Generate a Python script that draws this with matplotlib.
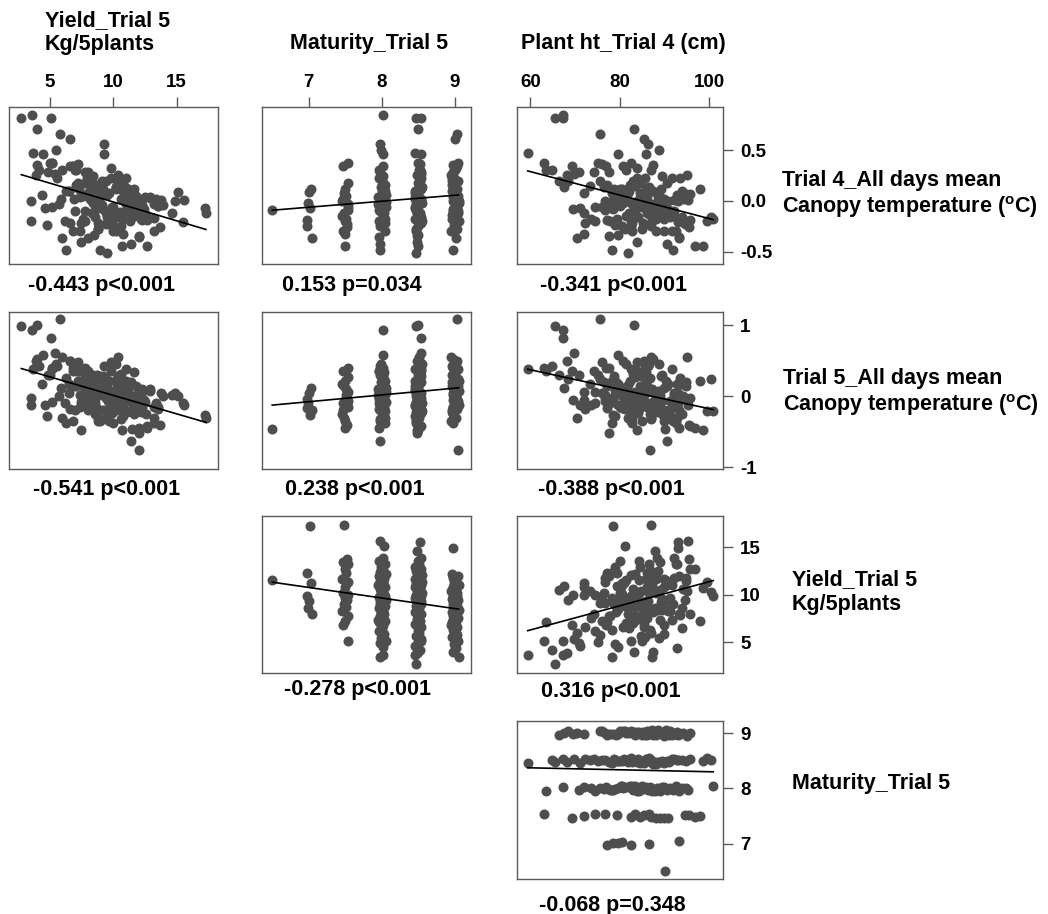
import numpy as np
import matplotlib
matplotlib.use('Agg')
import matplotlib.pyplot as plt

# ---------------- data (one entry per genotype) ----------------
maturity = [
    6.50,
    7.02, 6.98, 7.03, 6.97, 7.01, 6.99, 7.04,
    7.48, 7.52, 7.47, 7.53, 7.49, 7.51, 7.46, 7.54, 7.50, 7.47,
    7.53, 7.49, 7.52, 7.48, 7.51, 7.46, 7.54, 7.50, 7.47, 7.53,
    7.97, 8.03, 8.01, 7.96, 8.04, 7.99, 8.02, 7.98, 8.05, 7.96,
    8.00, 8.03, 7.97, 8.01, 7.95, 8.04, 7.98, 8.02, 7.99, 8.03,
    7.96, 8.01, 8.05, 7.97, 8.00, 7.98, 8.04, 7.96, 8.02, 7.99,
    8.03, 7.97, 8.01, 7.95, 8.04, 7.98, 8.02, 8.00, 7.96, 8.03,
    7.99, 8.05, 7.97, 8.01, 7.98, 8.02, 7.96, 8.04,
    8.47, 8.53, 8.50, 8.46, 8.52, 8.48, 8.54, 8.49, 8.51, 8.46,
    8.53, 8.47, 8.50, 8.55, 8.48, 8.52, 8.45, 8.51, 8.49, 8.53,
    8.47, 8.54, 8.50, 8.46, 8.52, 8.48, 8.51, 8.55, 8.49, 8.47,
    8.53, 8.46, 8.50, 8.52, 8.48, 8.54, 8.47, 8.51, 8.49, 8.45,
    8.53, 8.50, 8.48, 8.52, 8.46, 8.54, 8.49, 8.51, 8.47, 8.53,
    8.50, 8.46, 8.52, 8.48, 8.55, 8.49, 8.51, 8.47, 8.53, 8.50,
    8.97, 9.03, 9.00, 8.96, 9.04, 8.98, 9.02, 8.99, 9.05, 8.97,
    9.01, 8.95, 9.03, 8.98, 9.02, 8.96, 9.04, 9.00, 8.97, 9.03,
    8.99, 9.05, 8.96, 9.01, 8.98, 9.04, 8.97, 9.02, 9.00, 8.95,
    9.03, 8.98, 9.01, 8.96, 9.04, 8.99, 9.02, 8.97, 9.05, 9.00,
    8.96, 9.03, 8.98, 9.01, 8.97, 9.04, 8.99, 9.02, 8.96, 9.00,
]

plant_ht = [
    90.2,
    78.4, 77.2, 80.5, 82.5, 79.5, 86.6, 93.2,
    87.0, 95.5, 89.0, 86.5, 96.8, 79.3, 90.0, 76.7, 71.9, 88.0,
    74.5, 82.6, 94.5, 84.5, 85.5, 90.8, 83.5, 97.9, 69.3, 63.0,
    95.2, 81.2, 88.3, 84.3, 92.5, 79.0, 86.8, 78.5, 83.3, 93.2,
    94.8, 85.8, 90.6, 80.8, 87.3, 80.2, 87.0, 84.8, 76.5, 72.0,
    83.8, 91.2, 80.5, 86.3, 75.5, 91.8, 82.8, 87.8, 89.4, 85.3,
    81.8, 77.8, 73.5, 89.0, 82.3, 83.0, 77.0, 94.0, 74.5, 90.0,
    88.8, 85.0, 70.8, 79.6, 78.2, 67.2, 63.5, 100.9,
    65.6, 67.4, 83.2, 59.4, 93.1, 87.9, 92.2, 80.0, 92.8, 84.5,
    95.7, 88.5, 86.0, 82.5, 77.5, 76.8, 88.0, 81.5, 94.8, 81.0,
    91.0, 91.6, 79.4, 89.8, 83.0, 89.0, 73.3, 86.5, 80.5, 82.7,
    84.0, 78.2, 89.5, 82.0, 90.0, 78.8, 85.0, 94.0, 90.5, 87.5,
    74.3, 83.5, 83.8, 76.0, 85.5, 72.2, 86.7, 87.0, 84.7, 69.7,
    75.2, 71.0, 64.9, 68.2, 99.5, 98.7, 100.5, 81.8, 85.8, 79.7,
    93.0, 75.6, 85.4, 88.0, 86.8, 92.2, 84.4, 72.0, 90.4, 86.2,
    94.2, 95.0, 80.1, 69.5, 83.8, 91.0, 68.5, 89.2, 85.0, 81.1,
    79.5, 88.6, 79.2, 95.7, 77.5, 86.0, 91.6, 83.2, 81.4, 89.8,
    80.7, 78.2, 70.5, 85.6, 82.6, 78.9, 92.8, 87.4, 87.1, 67.5,
    66.3, 76.0, 89.5, 76.8, 83.5, 91.3, 93.5, 85.3, 77.2, 82.0,
]

yield_kg = [
    11.5,
    17.2, 12.3, 11.2, 9.9, 9.3, 8.6, 8.0,
    17.3, 13.7, 13.4, 13.2, 12.7, 12.3, 11.6, 11.3, 10.8, 10.2,
    10.0, 9.7, 9.4, 9.0, 8.7, 8.3, 7.8, 7.3, 6.8, 5.2,
    15.6, 15.1, 13.9, 13.5, 13.2, 12.9, 12.6, 12.4, 12.2, 12.0,
    11.8, 11.6, 11.4, 11.2, 11.0, 10.8, 10.6, 10.4, 10.2, 10.0,
    9.8, 9.7, 9.5, 9.3, 9.1, 9.0, 8.8, 8.6, 8.4, 8.2,
    8.0, 7.8, 7.6, 7.4, 7.2, 7.0, 6.8, 6.5, 6.2, 5.9,
    5.5, 5.2, 4.9, 4.5, 3.5, 3.64, 7.1, 9.9,
    2.77, 5.13, 4.0, 3.7, 15.5, 14.6, 13.8, 13.5, 13.2, 12.9,
    12.7, 12.5, 12.3, 12.1, 12.0, 11.8, 11.7, 11.5, 11.4, 11.2,
    11.1, 11.0, 10.9, 10.8, 10.6, 10.5, 10.4, 10.2, 10.1, 10.0,
    9.9, 9.7, 9.6, 9.4, 9.2, 9.0, 8.8, 8.6, 8.4, 8.2,
    8.0, 7.8, 7.5, 7.2, 6.9, 6.6, 6.3, 6.0, 5.7, 5.4,
    5.0, 4.6, 4.2, 3.9, 11.3, 10.7, 10.3, 9.5, 9.3, 8.5,
    14.9, 5.81, 6.57, 12.2, 12.0, 11.8, 11.5, 11.2, 11.0, 10.8,
    10.6, 10.4, 10.2, 10.0, 9.8, 9.6, 9.4, 9.2, 9.0, 8.8,
    8.6, 8.4, 8.2, 8.0, 7.8, 7.6, 7.4, 7.2, 7.0, 6.8,
    6.6, 6.3, 6.0, 5.6, 5.2, 4.8, 4.4, 4.0, 3.5, 10.9,
    10.5, 9.9, 9.5, 9.1, 8.7, 8.3, 7.9, 7.5, 7.1, 6.5,
]

ct_trial4 = [
    -0.09,
    -0.07, -0.19, 0.12, -0.25, 0.09, -0.02, -0.37,
    -0.12, -0.26, 0.02, -0.03, -0.44, -0.18, -0.15, -0.09, -0.33, -0.30,
    -0.06, -0.20, -0.23, 0.08, 0.05, 0.00, 0.18, 0.12, 0.34, 0.37,
    0.01, 0.09, -0.04, -0.05, -0.30, 0.03, -0.14, -0.08, -0.01, -0.36,
    0.05, 0.12, -0.42, -0.02, -0.03, 0.10, -0.25, 0.18, 0.14, -0.12,
    0.22, -0.16, 0.06, 0.56, 0.20, -0.48, -0.22, -0.09, 0.24, 0.02,
    0.08, -0.20, -0.18, 0.04, 0.16, -0.10, 0.34, 0.10, -0.20, 0.02,
    0.50, -0.06, 0.28, 0.46, 0.00, 0.84, 0.30, -0.18,
    0.81, 0.81, 0.71, 0.47, -0.21, -0.12, 0.01, -0.05, -0.17, 0.04,
    -0.19, 0.04, -0.04, -0.02, -0.35, 0.00, -0.06, -0.15, 0.07, 0.02,
    -0.09, 0.22, 0.06, -0.18, 0.20, -0.11, 0.15, 0.14, -0.25, -0.30,
    -0.16, 0.08, -0.13, -0.12, -0.08, 0.12, -0.28, -0.16, 0.18, 0.10,
    0.28, -0.10, -0.40, 0.36, 0.02, -0.22, 0.10, 0.30, -0.03, 0.26,
    0.37, -0.07, 0.30, 0.25, -0.20, -0.44, -0.16, -0.51, 0.46, -0.34,
    0.00, 0.66, 0.61, -0.18, -0.10, -0.10, -0.05, 0.08, 0.00, -0.12,
    0.02, 0.25, 0.12, -0.08, 0.32, -0.14, 0.20, 0.12, 0.04, -0.28,
    0.09, -0.02, 0.10, 0.07, 0.28, 0.05, -0.30, 0.18, 0.30, -0.30,
    0.34, -0.48, -0.37, 0.22, 0.37, -0.24, 0.06, 0.35, -0.20, 0.14,
    0.20, -0.06, -0.16, -0.04, 0.15, -0.12, 0.22, -0.22, 0.16, 0.10,
]

ct_trial5 = [
    -0.46,
    -0.27, -0.16, 0.12, -0.04, 0.04, -0.10, -0.20,
    -0.30, -0.40, -0.10, -0.15, -0.44, 0.10, -0.25, -0.06, -0.05, -0.20,
    0.06, -0.35, -0.02, 0.14, 0.02, 0.18, 0.27, 0.22, 0.35, 0.40,
    -0.12, 0.00, 0.00, -0.18, -0.38, 0.08, -0.25, -0.05, 0.06, -0.45,
    0.15, 0.34, -0.63, 0.05, 0.10, 0.02, -0.32, 0.28, 0.20, -0.15,
    0.35, -0.26, 0.12, 0.42, 0.25, -0.35, -0.30, -0.04, 0.30, 0.10,
    0.16, -0.10, -0.12, 0.02, 0.22, -0.20, 0.40, 0.18, -0.10, 0.12,
    0.45, -0.08, 0.30, 0.58, -0.02, 0.94, 0.36, -0.21,
    0.99, 0.82, 1.00, 0.38, -0.10, 0.02, 0.04, -0.15, -0.30, 0.10,
    -0.42, -0.08, 0.06, -0.10, -0.51, -0.02, -0.14, -0.05, 0.20, -0.02,
    -0.22, 0.38, 0.12, -0.28, 0.32, -0.08, 0.18, 0.45, -0.16, -0.38,
    -0.23, 0.22, -0.06, -0.20, -0.20, 0.28, -0.35, -0.25, 0.15, 0.08,
    0.35, 0.02, -0.48, 0.48, 0.14, -0.18, 0.26, 0.55, 0.00, 0.61,
    0.30, -0.12, 0.42, 0.50, -0.21, -0.47, 0.24, -0.30, 0.20, -0.12,
    0.05, 1.09, 0.50, -0.22, -0.76, 0.02, -0.10, 0.06, 0.22, -0.15,
    0.00, 0.56, 0.10, -0.05, 0.48, -0.20, 0.25, 0.28, 0.12, -0.18,
    0.18, 0.08, 0.20, -0.02, 0.40, 0.15, -0.15, 0.35, 0.45, -0.35,
    0.50, -0.37, -0.30, 0.42, 0.38, -0.28, 0.18, 0.52, -0.12, 0.12,
    0.30, 0.04, -0.25, 0.02, 0.30, -0.06, 0.26, -0.08, 0.14, 0.05,
]

n = len(maturity)
assert all(len(a) == n for a in (plant_ht, yield_kg, ct_trial4, ct_trial5)), \
    [len(a) for a in (maturity, plant_ht, yield_kg, ct_trial4, ct_trial5)]

col_titles = ['Yield_Trial 5\nKg/5plants', 'Maturity_Trial 5', 'Plant ht_Trial 4 (cm)']
row_titles = ['Trial 4_All days mean\nCanopy temperature ($^{\\rm o}$C)',
              'Trial 5_All days mean\nCanopy temperature ($^{\\rm o}$C)',
              'Yield_Trial 5\nKg/5plants',
              'Maturity_Trial 5']
col_tick_vals = [[5, 10, 15], [7, 8, 9], [60, 80, 100]]
col_tick_labels = [['5', '10', '15'], ['7', '8', '9'], ['60', '80', '100']]
row_tick_vals = [[0.5, 0.0, -0.5], [1, 0, -1], [15, 10, 5], [9, 8, 7]]
row_tick_labels = [['0.5', '0.0', '-0.5'], ['1', '0', '-1'], ['15', '10', '5'], ['9', '8', '7']]
corr_labels = ['-0.443 p<0.001', '0.153 p=0.034', '-0.341 p<0.001',
               '-0.541 p<0.001', '0.238 p<0.001', '-0.388 p<0.001',
               '-0.278 p<0.001', '0.316 p<0.001',
               '-0.068 p=0.348']

# ---------------- layout ----------------
plt.rcParams['font.family'] = ['Liberation Sans', 'DejaVu Sans']
plt.rcParams['font.weight'] = 'bold'
plt.rcParams['mathtext.fontset'] = 'custom'
plt.rcParams['mathtext.rm'] = 'Liberation Sans:bold'
plt.rcParams['mathtext.bf'] = 'Liberation Sans:bold'

W, H = 1048, 914
fig = plt.figure(figsize=(W / 100, H / 100), dpi=100)

data = {'yield': np.array(yield_kg), 'mat': np.array(maturity), 'pht': np.array(plant_ht),
        'ct4': np.array(ct_trial4), 'ct5': np.array(ct_trial5)}
limits = {'yield': (1.8, 18.25), 'mat': (6.36, 9.22), 'pht': (57.0, 103.1),
          'ct4': (-0.621, 0.923), 'ct5': (-1.024, 1.187)}
col_vars = ['yield', 'mat', 'pht']
row_vars = ['ct4', 'ct5', 'yield', 'mat']
col_px = [(9, 218), (262, 471), (517, 723)]
row_px = [(107, 264), (312, 469), (516, 673), (721, 879)]
panels = [(0, 0), (0, 1), (0, 2), (1, 0), (1, 1), (1, 2), (2, 1), (2, 2), (3, 2)]
corr_pos = [(101, 285), (352, 285), (613, 285),
            (107, 490), (355, 490), (611, 490),
            (358, 690), (611, 691),
            (612, 905)]

PT_COLOR = '#4e4e4e'
FRAME = '#5a5a5a'
FS_BIG = 15.5
FS_TICK = 13.5


def fx(px):
    return px / W


def fy(py):
    return 1 - py / H


for k, (r, c) in enumerate(panels):
    x0, x1 = col_px[c]
    y0, y1 = row_px[r]
    ax = fig.add_axes([fx(x0), fy(y1), (x1 - x0) / W, (y1 - y0) / H])
    xv = data[col_vars[c]]
    yv = data[row_vars[r]]
    ax.scatter(xv, yv, s=52, color=PT_COLOR, linewidths=0, zorder=2)
    coef = np.polyfit(xv, yv, 1)
    xs = np.array([xv.min(), xv.max()])
    ax.plot(xs, np.polyval(coef, xs), color='black', lw=1.2, zorder=3)
    ax.set_xlim(*limits[col_vars[c]])
    ax.set_ylim(*limits[row_vars[r]])
    for sp in ax.spines.values():
        sp.set_color(FRAME)
        sp.set_linewidth(1.0)
    ax.tick_params(which='both', direction='out', length=7.5, width=1.0,
                   color=FRAME, labelcolor='black', labelsize=FS_TICK)
    if r == 0:
        ax.xaxis.tick_top()
        ax.set_xticks(col_tick_vals[c])
        ax.set_xticklabels(col_tick_labels[c], fontweight='bold')
        ax.tick_params(axis='x', pad=4)
    else:
        ax.set_xticks([])
    if c == 2:
        ax.yaxis.tick_right()
        ax.set_yticks(row_tick_vals[r])
        ax.set_yticklabels(row_tick_labels[r], fontweight='bold')
        ax.tick_params(axis='y', pad=5)
    else:
        ax.set_yticks([])
    px, py = corr_pos[k]
    fig.text(fx(px), fy(py), corr_labels[k], ha='center', va='center',
             fontsize=FS_BIG, fontweight='bold')

# column titles
fig.text(fx(45), fy(50), col_titles[0], ha='left', va='baseline',
         fontsize=FS_BIG, fontweight='bold', linespacing=1.2)
fig.text(fx(369), fy(48.5), col_titles[1], ha='center', va='baseline',
         fontsize=FS_BIG, fontweight='bold')
fig.text(fx(623), fy(48.5), col_titles[2], ha='center', va='baseline',
         fontsize=FS_BIG, fontweight='bold')

# row titles
row_title_pos = [(782, 195), (783, 393), (792, 592), (792, 784)]
for (px, py), t in zip(row_title_pos, row_titles):
    fig.text(fx(px), fy(py), t, ha='left', va='center', fontsize=FS_BIG,
             fontweight='bold', linespacing=1.2)

fig.savefig('out.png', dpi=100)
